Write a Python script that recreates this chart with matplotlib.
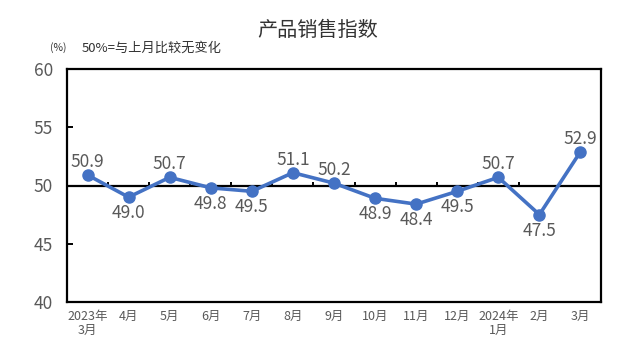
import matplotlib
matplotlib.use("Agg")
import matplotlib.pyplot as plt
import numpy as np

plt.rcParams['font.family'] = ['Noto Sans CJK SC', 'DejaVu Sans']

# data
months = ['2023年\n3月', '4月', '5月', '6月', '7月', '8月', '9月',
          '10月', '11月', '12月', '2024年\n1月', '2月', '3月']
values = [50.9, 49.0, 50.7, 49.8, 49.5, 51.1, 50.2, 48.9, 48.4, 49.5, 50.7, 47.5, 52.9]
label_above = [True, False, True, False, False, True, True, False, False, False, True, False, True]

W, H = 636, 362
fig = plt.figure(figsize=(W / 100, H / 100), dpi=100)
ax = fig.add_axes([67 / W, 1 - 302 / H, (601 - 67) / W, (302 - 69) / H])

x = np.arange(len(values))
blue = '#4472C4'
gray = '#595959'

ax.plot(x, values, color=blue, lw=2.6, marker='o', ms=8, zorder=3)

# the 50 line with small category ticks pointing up
ax.axhline(50, color='black', lw=1.6, zorder=2)
ax.vlines(x[:-1] + 0.5, 50, 50.3, color='black', lw=1.4, zorder=2)

for i, v in enumerate(values):
    dy = 3 if label_above[i] else -5
    ax.annotate(f'{v:.1f}', (i, v), xytext=(0, dy), textcoords='offset points',
                ha='center', va='bottom' if label_above[i] else 'top',
                fontsize=12.5, color=gray)

ax.set_xlim(-0.5, len(values) - 0.5)
ax.set_ylim(40, 60)
ax.set_yticks([40, 45, 50, 55, 60])
ax.set_xticks(x)
ax.set_xticklabels(months, fontsize=9, color=gray, linespacing=1.1)
ax.tick_params(axis='x', length=0, pad=6)
ax.tick_params(axis='y', direction='in', length=4, width=1.4, labelsize=12.5,
               labelcolor=gray, pad=10)
for s in ax.spines.values():
    s.set_linewidth(1.6)
    s.set_color('black')

fig.text(318 / W, 1 - 30 / H, '产品销售指数', ha='center', va='center',
         fontsize=14.5, color='#333333')
fig.text(50 / W, 1 - 48 / H, '(%)', ha='left', va='center', fontsize=7.5, color='#333333')
fig.text(82 / W, 1 - 48 / H, '50%=与上月比较无变化', ha='left', va='center',
         fontsize=9.5, color='#333333')

fig.savefig('out.png', dpi=100)
